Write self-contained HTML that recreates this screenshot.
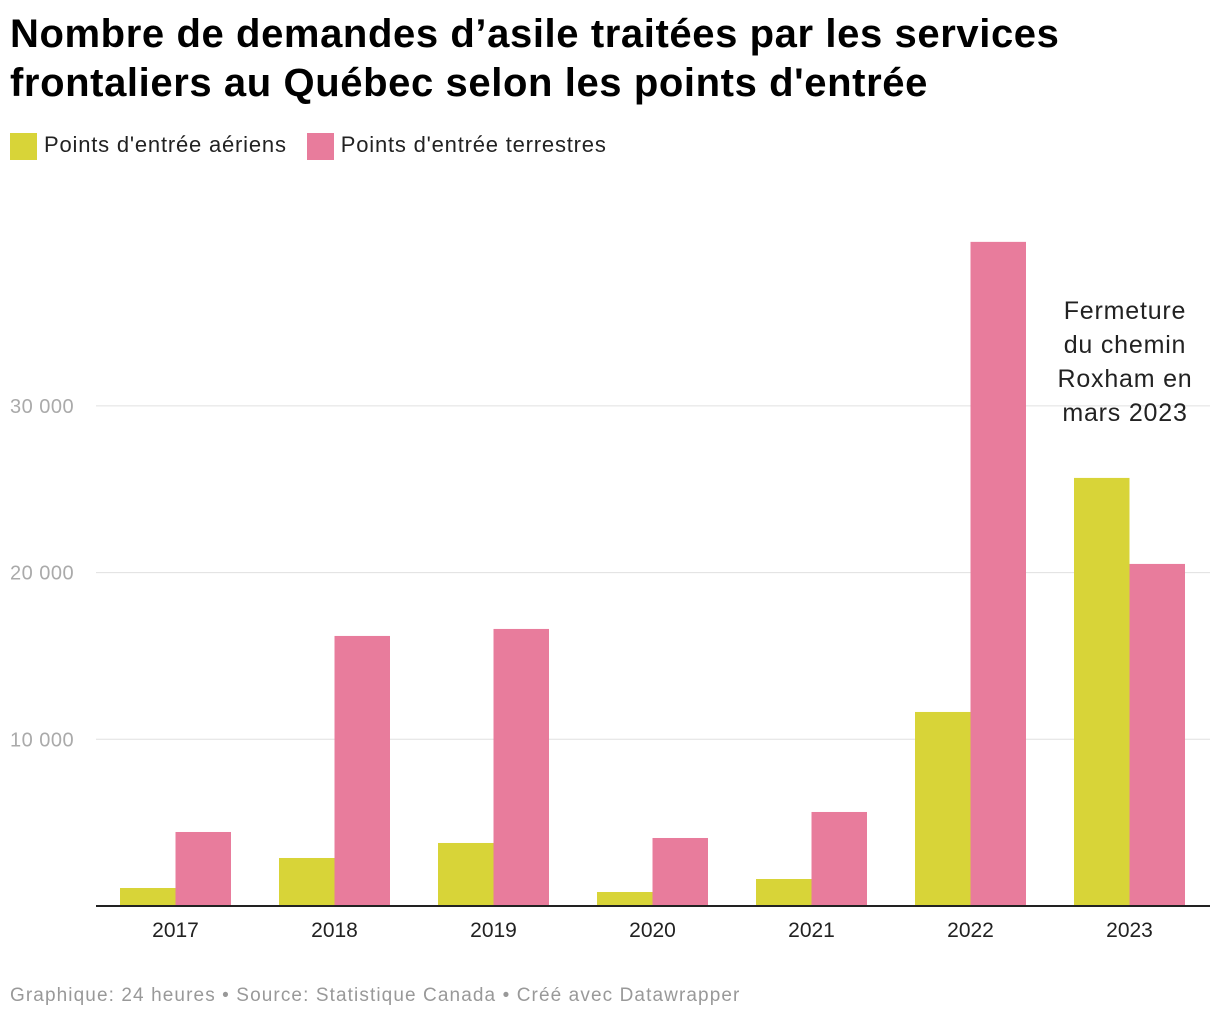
<!DOCTYPE html>
<html><head><meta charset="utf-8">
<style>
body{margin:0;width:1220px;height:1020px;background:#fff;font-family:"Liberation Sans",sans-serif;overflow:hidden}
h1{position:absolute;left:10px;top:10px;margin:0;font-size:40px;line-height:49px;font-weight:bold;color:#000;letter-spacing:0.6px;white-space:nowrap}
.legend{position:absolute;top:132px;left:10px;font-size:22px;color:#222;display:flex;gap:20px;letter-spacing:0.8px}
.legend span.sw{display:inline-block;width:27px;height:27px;vertical-align:middle;margin-right:7px}
.foot{position:absolute;left:10px;top:985px;font-size:19px;color:#999;letter-spacing:1.1px}
</style></head><body>
<h1>Nombre de demandes d’asile traitées par les services<br>frontaliers au Québec selon les points d'entrée</h1>
<div class="legend">
<div><span class="sw" style="background:#d8d438"></span>Points d'entrée aériens</div>
<div><span class="sw" style="background:#e87c9c"></span>Points d'entrée terrestres</div>
</div>
<svg id="chart" width="1220" height="1020" style="position:absolute;left:0;top:0"></svg>
<div class="foot">Graphique: 24 heures • Source: Statistique Canada • Créé avec Datawrapper</div>
<script>
const categories=["2017","2018","2019","2020","2021","2022","2023"];
const aeriens=[1080,2880,3780,840,1620,11640,25680];
const terrestres=[4440,16200,16620,4080,5640,39840,20520];
const ticks=[10000,20000,30000];
const tickLabels=["10 000","20 000","30 000"];
const NS="http://www.w3.org/2000/svg";
const svg=document.getElementById('chart');
const y0=906,pxPer=166.7/10000,x0=120,step=159,bw=55.5;
const y=v=>y0-v*pxPer;
function mk(t,a){const e=document.createElementNS(NS,t);for(const k in a)e.setAttribute(k,a[k]);svg.appendChild(e);return e;}
ticks.forEach((t,i)=>{
 const l=mk('line',{x1:96,x2:1210,y1:y(t),y2:y(t),stroke:'#e0e0e0','stroke-width':1});
 
 
 const tx=mk('text',{x:10,y:y(t)+7,'font-size':20,fill:'#aaa','letter-spacing':0.5});tx.textContent=tickLabels[i];
 
 
});
categories.forEach((c,i)=>{
 const gx=x0+i*step;
 const a=mk('rect',{x:gx,y:y(aeriens[i]),width:bw,height:aeriens[i]*pxPer,fill:'#d8d438'});
 
 
 const b=mk('rect',{x:gx+bw,y:y(terrestres[i]),width:bw,height:terrestres[i]*pxPer,fill:'#e87c9c'});
 
 
 const t=mk('text',{x:gx+bw,y:937,'font-size':21,fill:'#222','text-anchor':'middle'});t.textContent=c;
 
 
});
const ax=mk('line',{x1:96,x2:1210,y1:y0,y2:y0,stroke:'#222','stroke-width':2});


const lines=["Fermeture","du chemin","Roxham en","mars 2023"];
lines.forEach((s,i)=>{const t=mk('text',{x:1125,y:319+i*34,'font-size':25,fill:'#222','text-anchor':'middle','letter-spacing':0.8});t.textContent=s;
 
 });
</script>
</body></html>
